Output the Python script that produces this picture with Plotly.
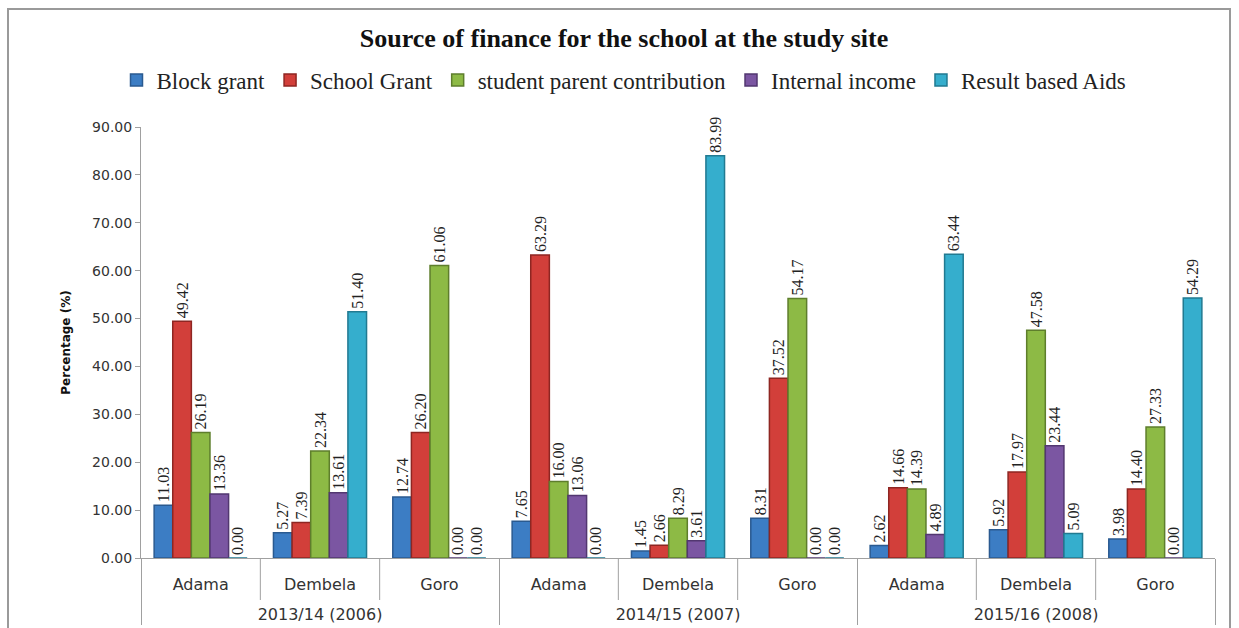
import plotly.graph_objects as go

years = ["2013/14 (2006)"] * 3 + ["2014/15 (2007)"] * 3 + ["2015/16 (2008)"] * 3
sites = ["Adama", "Dembela", "Goro"] * 3

block_grant = [11.03, 5.27, 12.74, 7.65, 1.45, 8.31, 2.62, 5.92, 3.98]
school_grant = [49.42, 7.39, 26.20, 63.29, 2.66, 37.52, 14.66, 17.97, 14.40]
student_parent = [26.19, 22.34, 61.06, 16.00, 8.29, 54.17, 14.39, 47.58, 27.33]
internal_income = [13.36, 13.61, 0.00, 13.06, 3.61, 0.00, 4.89, 23.44, 0.00]
result_based = [0.00, 51.40, 0.00, 0.00, 83.99, 0.00, 63.44, 5.09, 54.29]

series = [
    ("Block grant", block_grant, "#3C7DC4", "#2A5A90"),
    ("School Grant", school_grant, "#D23F3A", "#8E2622"),
    ("student parent contribution", student_parent, "#8DBA45", "#5E7E2C"),
    ("Internal income", internal_income, "#7B56A2", "#523770"),
    ("Result based Aids", result_based, "#35AECD", "#217A91"),
]

year_labels = [" <br>" + y for y in years]

fig = go.Figure()
for name, vals, col, edge in series:
    fig.add_trace(go.Bar(
        name=name,
        x=[year_labels, sites],
        y=vals,
        marker=dict(color=col, line=dict(color=edge, width=1.5)),
        text=[f"{v:.2f}" for v in vals],
        textposition="outside",
        textangle=-90,
        constraintext="none",
        textfont=dict(family="Liberation Serif", size=16, color="#222"),
        cliponaxis=False,
    ))

W, H = 1239, 628
ml, mr, mt, mb = 141, 24, 127, 70
pw, ph = W - ml - mr, H - mt - mb

def px_x(p):
    return (p - ml) / pw

def px_y(p):
    return (H - mb - p) / ph

shapes = [
    dict(type="rect", xref="paper", yref="paper",
         x0=px_x(8), x1=px_x(1230), y0=px_y(640), y1=px_y(9),
         line=dict(color="#9A9A9A", width=2), fillcolor="rgba(0,0,0,0)",
         layer="below"),
]
n = len(sites)
for i in range(1, n):
    if i % 3 != 0:
        shapes.append(dict(type="line", xref="x", yref="paper",
                           x0=i - 0.5, x1=i - 0.5, y0=0, y1=px_y(600),
                           line=dict(color="#A0A0A0", width=1)))

fig.update_layout(
    width=W, height=H,
    margin=dict(l=ml, r=mr, t=mt, b=mb),
    paper_bgcolor="white",
    plot_bgcolor="white",
    barmode="group",
    bargap=0.22,
    bargroupgap=0.0,
    title=dict(
        text="<b>Source of finance for the school at the study site</b>",
        x=624 / W, xref="container", xanchor="center",
        y=1 - 38 / H, yanchor="middle",
        font=dict(family="Liberation Serif", size=26, color="#111"),
    ),
    legend=dict(
        orientation="h",
        x=624 / W, xanchor="center", xref="container",
        y=1 - 80 / H, yanchor="middle", yref="container",
        font=dict(family="Liberation Serif", size=23, color="#222"),
        itemwidth=30,
        traceorder="normal",
    ),
    showlegend=True,
    xaxis=dict(
        type="multicategory",
        automargin=False,
        showline=True, linecolor="#A0A0A0",
        showdividers=True, dividercolor="#A0A0A0", dividerwidth=1,
        tickfont=dict(family="DejaVu Sans", size=16, color="#333"),
        ticks="",
        ticklabelstandoff=12,
    ),
    yaxis=dict(
        range=[0, 90],
        dtick=10,
        tickformat=".2f",
        showgrid=False,
        showline=True, linecolor="#A0A0A0",
        ticks="outside", tickcolor="#A0A0A0", ticklen=5,
        tickfont=dict(family="DejaVu Sans", size=14, color="#333"),
        title=dict(text="<b>Percentage (%)</b>",
                   font=dict(family="DejaVu Sans", size=12, color="#111"),
                   standoff=18),
        zeroline=False,
        automargin=False,
    ),
    shapes=shapes,
)

fig.write_html("out.html")
